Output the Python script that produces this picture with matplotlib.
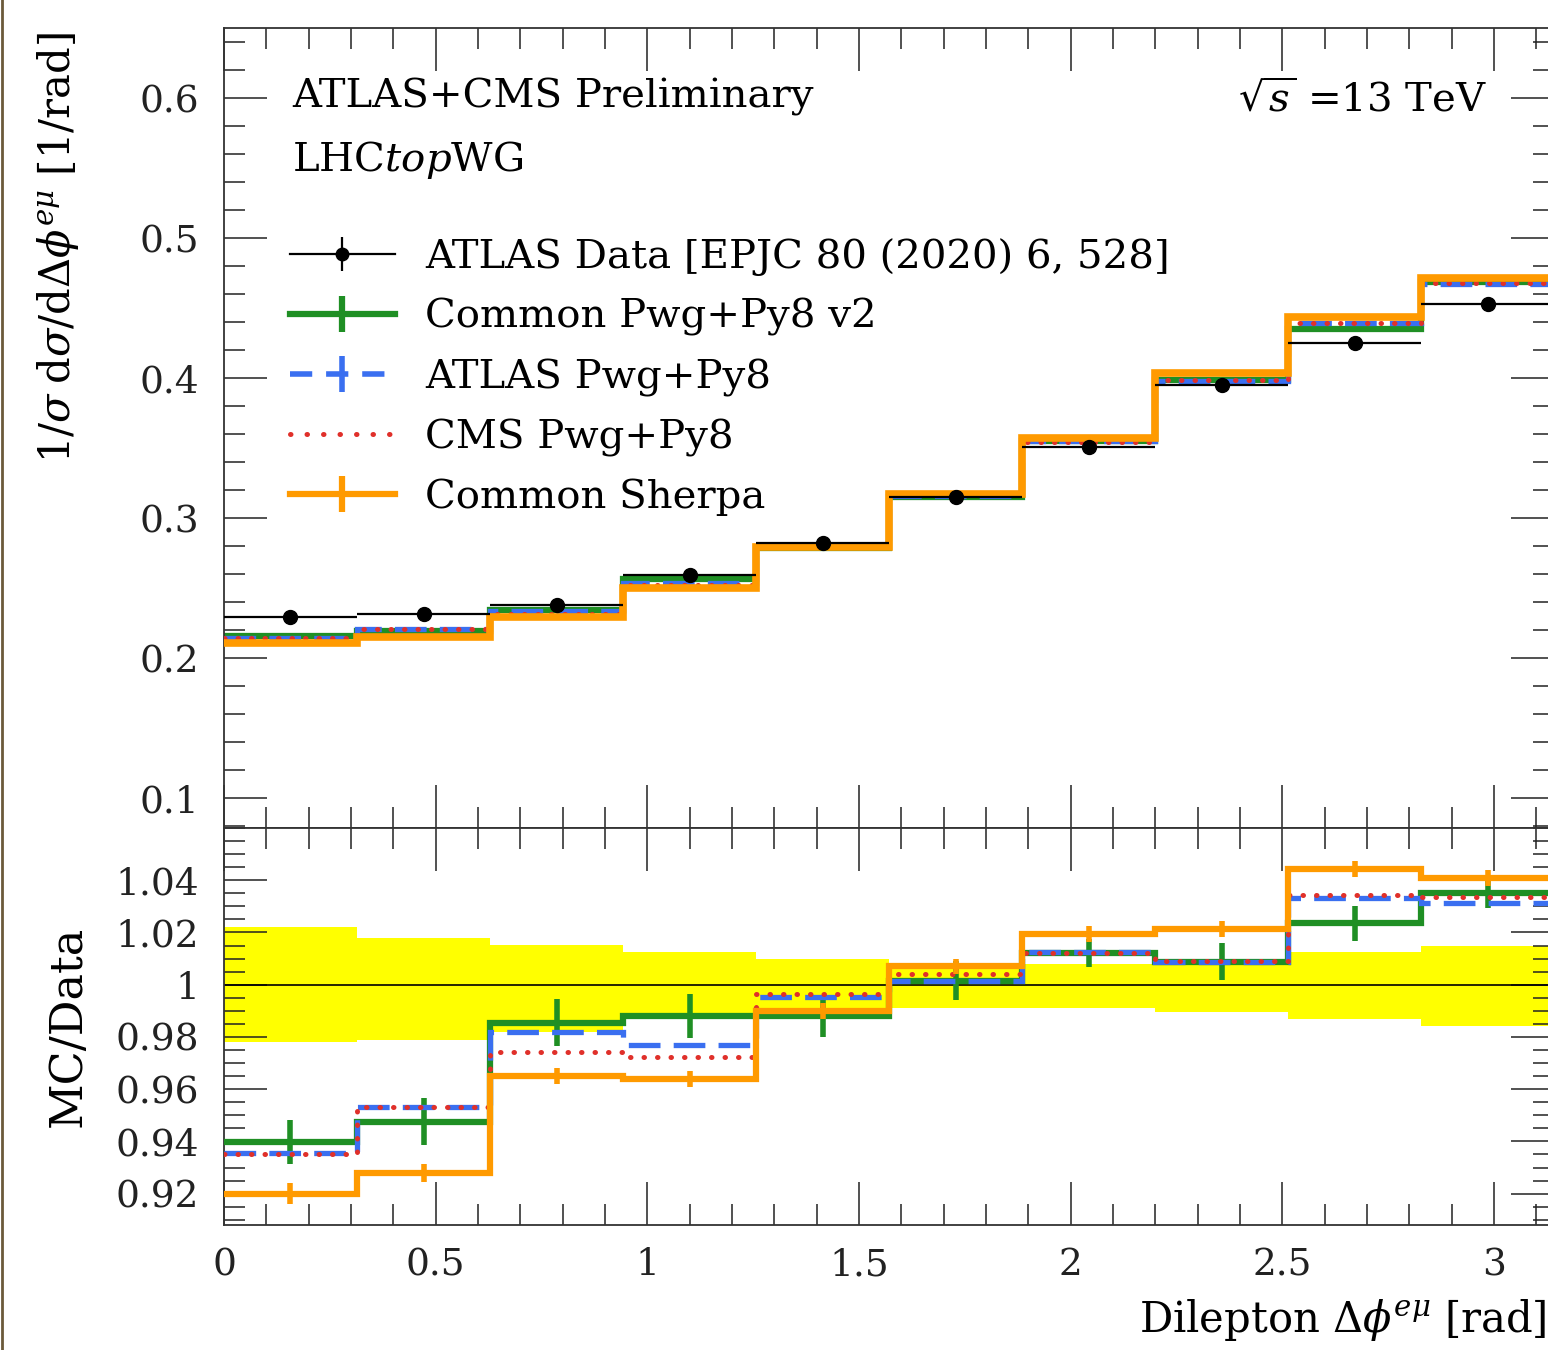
import numpy as np
import matplotlib
matplotlib.use("Agg")
import matplotlib.pyplot as plt
from matplotlib.lines import Line2D
from matplotlib.legend_handler import HandlerTuple
from matplotlib.ticker import MultipleLocator, FormatStrFormatter, FixedLocator

plt.rcParams['font.family'] = ['DejaVu Serif']
plt.rcParams['mathtext.fontset'] = 'dejavuserif'

# --- data (10 bins of Delta phi from 0 to pi) ---
n_bins = 10
edges = np.linspace(0, np.pi, n_bins + 1)
centers = 0.5 * (edges[:-1] + edges[1:])
half_w = 0.5 * (edges[1] - edges[0])

data = [0.2293, 0.2314, 0.2379, 0.2593, 0.2821, 0.3150, 0.3507, 0.3950, 0.4250, 0.4529]

pwg_common = [0.2155, 0.2193, 0.2344, 0.2563, 0.2787, 0.3153, 0.3549, 0.3983, 0.4350, 0.4688]
pwg_atlas = [0.2146, 0.2205, 0.2336, 0.2534, 0.2808, 0.3154, 0.3549, 0.3981, 0.4391, 0.4670]
pwg_cms = [0.2145, 0.2205, 0.2318, 0.2521, 0.2810, 0.3162, 0.3546, 0.3984, 0.4396, 0.4681]
sherpa = [0.2110, 0.2147, 0.2296, 0.2500, 0.2793, 0.3170, 0.3570, 0.4033, 0.4438, 0.4714]

# ratio panel (MC / Data)
r_pwg_common = [0.9398, 0.9475, 0.9854, 0.9880, 0.9880, 1.0015, 1.0121, 1.0088, 1.0236, 1.0350]
r_pwg_atlas = [0.9357, 0.9530, 0.9819, 0.9771, 0.9954, 1.0015, 1.0126, 1.0088, 1.0331, 1.0312]
r_pwg_cms = [0.9353, 0.9530, 0.9743, 0.9724, 0.9966, 1.0040, 1.0120, 1.0090, 1.0343, 1.0336]
r_sherpa = [0.9200, 0.9280, 0.9650, 0.9640, 0.9900, 1.0070, 1.0195, 1.0214, 1.0442, 1.0408]

err_pwg_common = [0.0085, 0.0090, 0.0090, 0.0085, 0.0080, 0.0075, 0.0055, 0.0070, 0.0067, 0.0055]
err_sherpa = [0.0040, 0.0035, 0.0030, 0.0030, 0.0030, 0.0030, 0.0030, 0.0030, 0.0030, 0.0030]

band_up = [1.0220, 1.0180, 1.0153, 1.0126, 1.0100, 1.0080, 1.0080, 1.0100, 1.0126, 1.0150]
band_dn = [0.9780, 0.9790, 0.9820, 0.9870, 0.9900, 0.9910, 0.9910, 0.9897, 0.9870, 0.9843]

ratio_ticks = [0.92, 0.94, 0.96, 0.98, 1.0, 1.02, 1.04]

c_green = '#1f8f24'
c_blue = '#3a6ff0'
c_red = '#e0302a'
c_orange = '#ff9a00'

fig = plt.figure(figsize=(15.48, 13.5), dpi=100)
ax1 = fig.add_axes([0.1447, 0.38667, 0.8592, 0.59259])
ax2 = fig.add_axes([0.1447, 0.09259, 0.8592, 0.29407], sharex=ax1)

red_style = (0, (0.1, 2.6))

# ---- upper panel ----
ax1.errorbar(centers, data, xerr=half_w, fmt='o', color='k', ms=10,
             elinewidth=1.6, capsize=0, zorder=6)
ax1.stairs(pwg_common, edges, baseline=None, color=c_green, lw=4.5, zorder=2)
ax1.stairs(pwg_atlas, edges, baseline=None, color=c_blue, lw=3.8,
           linestyle=(0, (6, 2.5)), zorder=3)
ax1.stairs(pwg_cms, edges, baseline=None, color=c_red, lw=3.6,
           linestyle=red_style, capstyle='round', zorder=4)
ax1.stairs(sherpa, edges, baseline=None, color=c_orange, lw=5.5, zorder=5)

ax1.set_xlim(0, np.pi)
ax1.set_ylim(0.0786, 0.65)

txt_size = 29
ax1.text(0.0511, 0.914, 'ATLAS+CMS Preliminary', transform=ax1.transAxes,
         fontsize=txt_size, va='center', ha='left')
ax1.text(0.0511, 0.835, 'LHC$\\mathit{top}$WG', transform=ax1.transAxes,
         fontsize=txt_size, va='center', ha='left')
ax1.text(0.9496, 0.91, '$\\sqrt{s}$ =13 TeV', transform=ax1.transAxes,
         fontsize=txt_size, va='center', ha='right')

h_data = (Line2D([], [], color='k', lw=1.6),
          Line2D([], [], color='k', marker='o', ms=9, ls='none'),
          Line2D([], [], color='k', marker='|', ms=24, mew=1.6, ls='none'))
h_green = (Line2D([], [], color=c_green, lw=4.5),
           Line2D([], [], color=c_green, marker='|', ms=26, mew=4.5, ls='none'))
h_blue = (Line2D([], [], color=c_blue, lw=4, linestyle=(0, (4, 2.5))),
          Line2D([], [], color=c_blue, marker='|', ms=26, mew=4, ls='none'))
h_red = (Line2D([], [], color=c_red, lw=3.6, linestyle=(0, (0.1, 3.2)),
                dash_capstyle='round'),)
h_orange = (Line2D([], [], color=c_orange, lw=4.5),
            Line2D([], [], color=c_orange, marker='|', ms=26, mew=4.5, ls='none'))

labels = ['ATLAS Data [EPJC 80 (2020) 6, 528]', 'Common Pwg+Py8 v2',
          'ATLAS Pwg+Py8', 'CMS Pwg+Py8', 'Common Sherpa']
ax1.legend([h_data, h_green, h_blue, h_red, h_orange], labels,
           handler_map={tuple: HandlerTuple(ndivide=1, pad=0)},
           loc='upper left', bbox_to_anchor=(0.0496, 0.737),
           frameon=False, fontsize=txt_size, handlelength=2.6, handletextpad=0.75,
           labelspacing=0.55, borderpad=0, borderaxespad=0)

# ---- ratio panel ----
ax2.stairs(band_up, edges, baseline=band_dn, fill=True, color='#ffff00',
           lw=0, zorder=1)
ax2.axhline(1.0, color='k', lw=1.2, zorder=2)
ax2.stairs(r_pwg_common, edges, baseline=None, color=c_green, lw=4.5, zorder=3)
ax2.errorbar(centers, r_pwg_common, yerr=err_pwg_common, fmt='none',
             ecolor=c_green, elinewidth=4, zorder=3)
ax2.stairs(r_pwg_atlas, edges, baseline=None, color=c_blue, lw=3.8,
           linestyle=(0, (6, 2.5)), zorder=4)
ax2.stairs(r_pwg_cms, edges, baseline=None, color=c_red, lw=3.6,
           linestyle=red_style, capstyle='round', zorder=5)
ax2.stairs(r_sherpa, edges, baseline=None, color=c_orange, lw=4.5, zorder=6)
ax2.errorbar(centers, r_sherpa, yerr=err_sherpa, fmt='none',
             ecolor=c_orange, elinewidth=4, zorder=6)
ax2.set_ylim(0.908, 1.06)

# ---- ticks and spines ----
for ax in (ax1, ax2):
    ax.xaxis.set_major_locator(MultipleLocator(0.5))
    ax.xaxis.set_minor_locator(MultipleLocator(0.1))
    ax.tick_params(which='both', direction='in', top=True, right=True,
                   width=1.1, labelsize=27, colors='#222222')
    ax.tick_params(which='major', length=31)
    ax.tick_params(which='minor', length=15)
    ax.tick_params(axis='y', pad=18)
    ax.tick_params(axis='x', pad=16)
    for s in ax.spines.values():
        s.set_linewidth(1.3)
        s.set_color('#333333')

ax1.yaxis.set_major_locator(MultipleLocator(0.1))
ax1.yaxis.set_minor_locator(MultipleLocator(0.02))
ax1.yaxis.set_major_formatter(FormatStrFormatter('%g'))
ax1.tick_params(axis='x', labelbottom=False)

ax2.yaxis.set_major_locator(FixedLocator(ratio_ticks))
ax2.yaxis.set_minor_locator(MultipleLocator(0.005))
ax2.yaxis.set_major_formatter(FormatStrFormatter('%g'))
ax2.xaxis.set_major_formatter(FormatStrFormatter('%g'))

# ---- axis titles ----
fig.text(58 / 1548, 1 - 32 / 1350,
         '$1/\\sigma\\;\\mathrm{d}\\sigma/\\mathrm{d}\\Delta\\phi^{e\\mu}$ [1/rad]',
         rotation=90, va='top', ha='center', fontsize=txt_size + 1)
fig.text(68 / 1548, 1 - 1026 / 1350, 'MC/Data', rotation=90,
         va='center', ha='center', fontsize=txt_size + 3)
fig.text(0.999, 1 - 1320 / 1350, 'Dilepton $\\Delta\\phi^{e\\mu}$ [rad]',
         ha='right', va='center', fontsize=txt_size + 1)

fig.add_artist(Line2D([0.0012, 0.0012], [0, 1], transform=fig.transFigure,
                      color='#6b5a3a', lw=2))

fig.savefig('out.png', dpi=100)
